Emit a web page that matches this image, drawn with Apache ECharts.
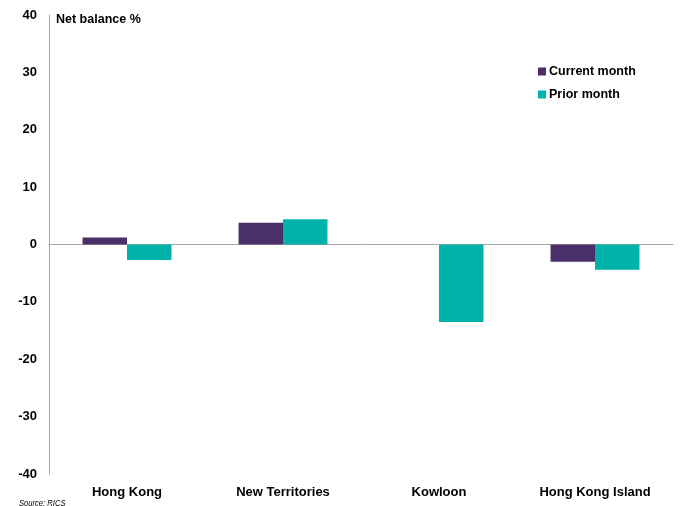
<!DOCTYPE html>
<html><head><meta charset="utf-8">
<script src="https://cdn.jsdelivr.net/npm/echarts@6/dist/echarts.min.js"></script>
<style>html,body{margin:0;padding:0;background:#fff}#c{width:682px;height:506px}</style>
</head><body><div id="c"></div>
<script>
const categories = ['Hong Kong', 'New Territories', 'Kowloon', 'Hong Kong Island'];
const currentMonth = [1.2, 3.8, 0, -3.0];
const priorMonth = [-2.7, 4.4, -13.5, -4.4];
const seriesNames = ['Current month', 'Prior month'];
const yTicks = {min: -40, max: 40, interval: 10};

const FONT = 'Liberation Sans, Arial, sans-serif';
const chart = echarts.init(document.getElementById('c'));
chart.setOption({
  animation: false,
  backgroundColor: '#fff',
  grid: {left: 49, right: 9, top: 15, bottom: 32, containLabel: false},
  xAxis: [
    {type: 'category', data: categories, position: 'bottom',
     axisLine: {onZero: true, lineStyle: {color: '#a6a6a6', width: 1}},
     axisTick: {show: false}, axisLabel: {show: false}},
    {type: 'category', data: categories, position: 'bottom',
     axisLine: {show: false, onZero: false}, axisTick: {show: false},
     axisLabel: {color: '#000', fontFamily: FONT, fontWeight: 'bold', fontSize: 13, margin: 12}}
  ],
  yAxis: {type: 'value', min: yTicks.min, max: yTicks.max, interval: yTicks.interval,
    axisLine: {show: true, lineStyle: {color: '#a6a6a6', width: 1}},
    axisTick: {show: false}, splitLine: {show: false},
    axisLabel: {color: '#000', fontFamily: FONT, fontWeight: 'bold', fontSize: 13, margin: 12}},
  legend: {orient: 'vertical', left: 533, top: 60, itemWidth: 8, itemHeight: 8, itemGap: 10,
    icon: 'rect', data: seriesNames,
    textStyle: {color: '#000', fontFamily: FONT, fontWeight: 'bold', fontSize: 12.5, padding: [0,0,0,-2]}},
  graphic: [
    {type: 'text', left: 56, top: 13, style: {text: 'Net balance %', fill: '#000', font: 'bold 12.5px ' + FONT}},
    {type: 'text', x: 19, y: 498, scaleX: 0.8, style: {text: 'Source: RICS', fill: '#000', font: 'italic 9.5px ' + FONT}}
  ],
  series: [
    {name: seriesNames[0], type: 'bar', xAxisIndex: 0, data: currentMonth, barGap: '0%', barCategoryGap: '43%',
     itemStyle: {color: '#4b2f68'}},
    {name: seriesNames[1], type: 'bar', xAxisIndex: 0, data: priorMonth, barGap: '0%', barCategoryGap: '43%',
     itemStyle: {color: '#00b2a9'}}
  ]
});
</script></body></html>
